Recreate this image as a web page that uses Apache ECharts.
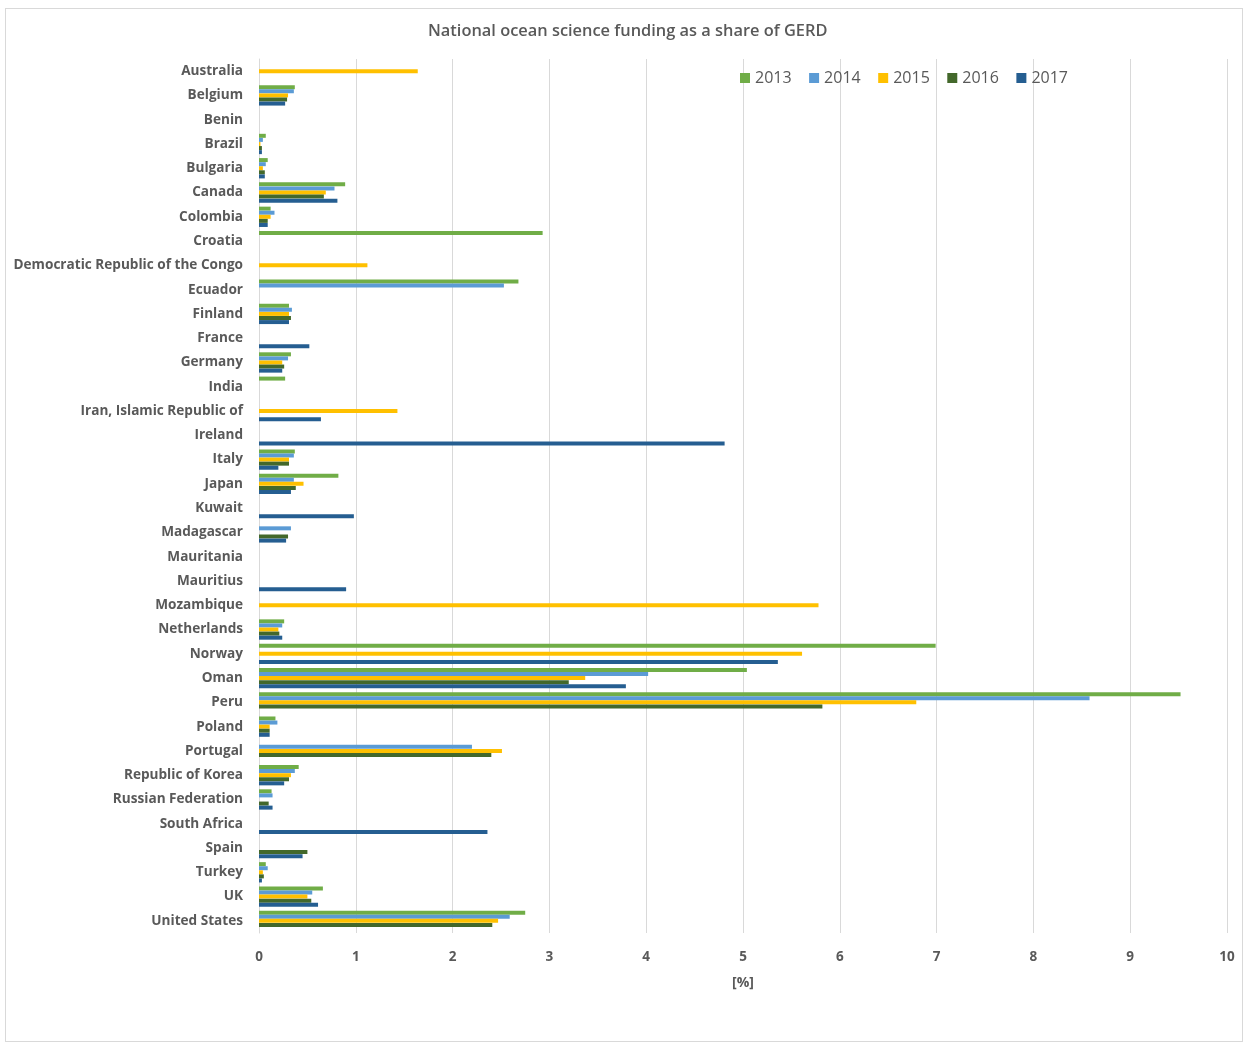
<!DOCTYPE html>
<html>
<head>
<meta charset="utf-8">
<script src="https://cdn.jsdelivr.net/npm/echarts@6/dist/echarts.min.js"></script>
<style>
html,body{margin:0;padding:0;background:#fff;}
#frame{position:absolute;left:5px;top:8px;width:1238px;height:1034px;border:1px solid #d9d9d9;box-sizing:border-box;}
#chart{position:absolute;left:0;top:0;width:1249px;height:1045px;}
</style>
</head>
<body>
<div id="frame"></div>
<div id="chart"></div>
<script>
const categories = ["Australia","Belgium","Benin","Brazil","Bulgaria","Canada","Colombia","Croatia","Democratic Republic of the Congo","Ecuador","Finland","France","Germany","India","Iran, Islamic Republic of","Ireland","Italy","Japan","Kuwait","Madagascar","Mauritania","Mauritius","Mozambique","Netherlands","Norway","Oman","Peru","Poland","Portugal","Republic of Korea","Russian Federation","South Africa","Spain","Turkey","UK","United States"];
const years = ["2013","2014","2015","2016","2017"];
const xTicks = [0,1,2,3,4,5,6,7,8,9,10];

const v2013 = [null,0.37,null,0.07,0.09,0.89,0.12,2.93,null,2.68,0.31,null,0.33,0.27,null,null,0.37,0.82,null,null,null,null,null,0.26,6.99,5.04,9.52,0.17,null,0.41,0.13,null,null,0.07,0.66,2.75];
const v2014 = [null,0.36,null,0.04,0.07,0.78,0.16,null,null,2.53,0.34,null,0.30,null,null,null,0.36,0.36,null,0.33,null,null,null,0.24,null,4.02,8.58,0.19,2.20,0.37,0.14,null,null,0.09,0.55,2.59];
const v2015 = [1.64,0.30,null,0.015,0.04,0.69,0.12,null,1.12,null,0.31,null,0.24,null,1.43,null,0.31,0.46,null,null,null,null,5.78,0.20,5.61,3.37,6.79,0.11,2.51,0.33,null,null,null,0.04,0.50,2.47];
const v2016 = [null,0.29,null,0.03,0.06,0.67,0.09,null,null,null,0.33,null,0.26,null,null,null,0.31,0.38,null,0.30,null,null,null,0.21,null,3.20,5.82,0.11,2.40,0.31,0.10,null,0.50,0.05,0.54,2.41];
const v2017 = [null,0.27,null,0.03,0.06,0.81,0.09,null,null,null,0.31,0.52,0.24,null,0.64,4.81,0.20,0.33,0.98,0.28,null,0.90,null,0.24,5.36,3.79,null,0.11,null,0.26,0.14,2.36,0.45,0.03,0.61,null];

const seriesValues = [v2013,v2014,v2015,v2016,v2017];
const colors = ["#70AD47","#5B9BD5","#FFC000","#43682B","#255E91"];

const font = "'Open Sans', 'Noto Sans', sans-serif";
const chart = echarts.init(document.getElementById('chart'), null, {renderer:'canvas'});
chart.setOption({
  animation:false,
  color: colors,
  title:{
    text:"National ocean science funding as a share of GERD",
    left:423, top:18,
    textStyle:{fontFamily:font, fontSize:16.4, fontWeight:600, color:'#595959'}
  },
  legend:{
    data: years,
    left:735, top:65,
    itemWidth:10, itemHeight:10, itemGap:17.5,
    icon:'rect',
    textStyle:{fontFamily:font, fontSize:16, color:'#595959'}
  },
  grid:{left:259, right:22, top:59, bottom:112, containLabel:false},
  xAxis:{
    type:'value', min:xTicks[0], max:xTicks[xTicks.length-1], interval:1,
    name:'[%]', nameLocation:'middle', nameGap:43,
    nameTextStyle:{fontFamily:font, fontSize:14, fontWeight:700, color:'#595959'},
    axisLine:{show:false}, axisTick:{show:false},
    axisLabel:{margin:17, fontFamily:font, fontSize:13.5, fontWeight:700, color:'#595959'},
    splitLine:{show:true, lineStyle:{color:'#d9d9d9', width:1}}
  },
  yAxis:{
    type:'category', data:categories, inverse:true,
    axisLine:{show:true, lineStyle:{color:'#d9d9d9'}}, axisTick:{show:false},
    axisLabel:{margin:16, fontFamily:font, fontSize:13.6, fontWeight:700, color:'#595959', interval:0}
  },
  series: years.map((y,i)=>({
    name:y, type:'bar', data:seriesValues[i],
    barWidth:4, barGap:'2%', barCategoryGap:'10%',
    itemStyle:{color:colors[i]}
  }))
});
</script>
</body>
</html>
